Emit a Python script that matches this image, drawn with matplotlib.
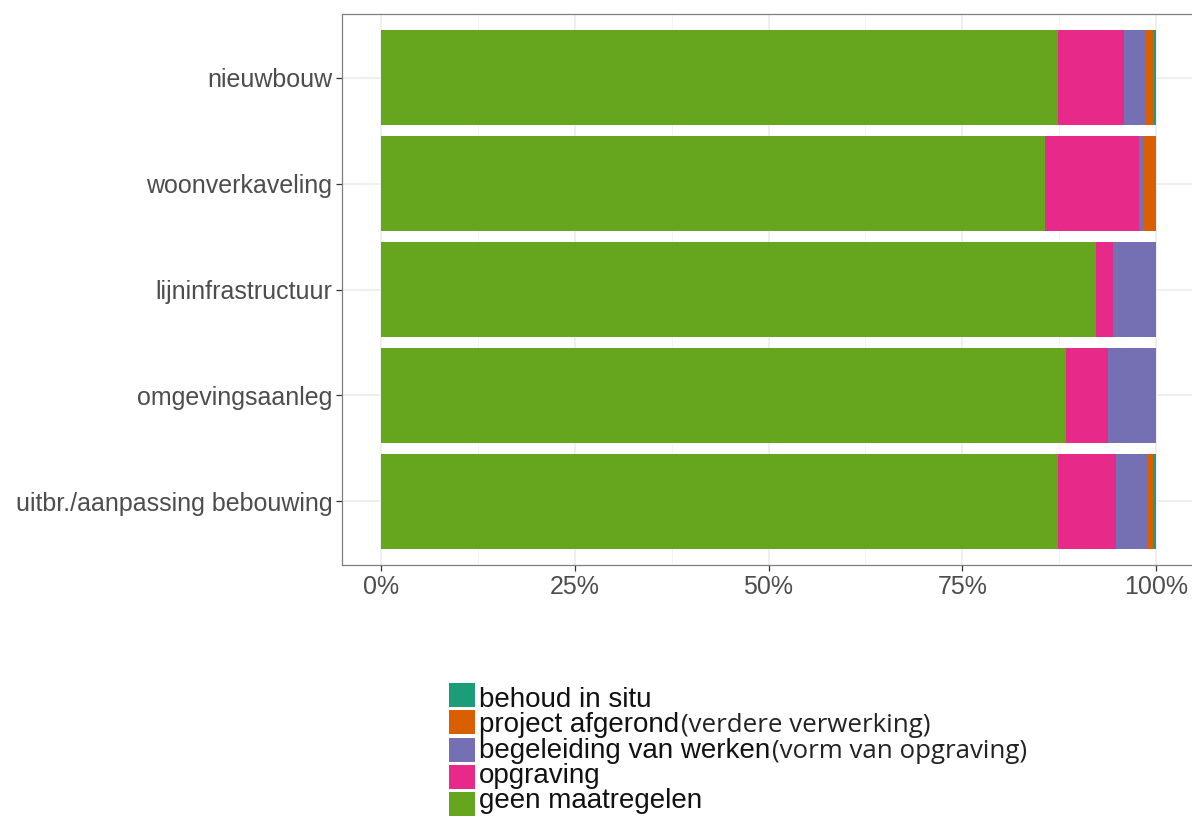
import matplotlib.pyplot as plt
from matplotlib.patches import Rectangle
from matplotlib import font_manager
from matplotlib.ticker import FixedLocator, PercentFormatter

# share of each measure per project type (percent, stacked left to right)
categories = ["nieuwbouw", "woonverkaveling", "lijninfrastructuur",
              "omgevingsaanleg", "uitbr./aanpassing bebouwing"]
geen_maatregelen = [87.3, 85.7, 92.2, 88.4, 87.3]
opgraving = [8.6, 12.1, 2.2, 5.4, 7.5]
begeleiding = [2.7, 0.5, 5.6, 6.2, 4.1]
project_afgerond = [1.1, 1.7, 0.0, 0.0, 0.7]
behoud_in_situ = [0.3, 0.0, 0.0, 0.0, 0.4]

# legend entries, top to bottom: (main label, note)
legend_labels = ["behoud in situ", "project afgerond", "begeleiding van werken",
                 "opgraving", "geen maatregelen"]
legend_notes = ["", "(verdere verwerking)", "(vorm van opgraving)", "", ""]

COLORS = {
    "geen": "#66A61E",
    "opgraving": "#E7298A",
    "begeleiding": "#7570B3",
    "project": "#D95F02",
    "behoud": "#1B9E77",
}

available = {f.name for f in font_manager.fontManager.ttflist}
SANS = "Liberation Sans" if "Liberation Sans" in available else "DejaVu Sans"
NOTE = "Open Sans" if "Open Sans" in available else SANS

W, H = 1192, 819
fig = plt.figure(figsize=(W / 100, H / 100), dpi=100)

# panel in pixel terms, converted to figure fractions
left, right, top, bottom = 342, 1195, 14, 565
ax = fig.add_axes([left / W, 1 - bottom / H, (right - left) / W, (bottom - top) / H])

series = [
    (geen_maatregelen, COLORS["geen"]),
    (opgraving, COLORS["opgraving"]),
    (begeleiding, COLORS["begeleiding"]),
    (project_afgerond, COLORS["project"]),
    (behoud_in_situ, COLORS["behoud"]),
]
ypos = list(range(len(categories)))
cum = [0.0] * len(categories)
for vals, col in series:
    frac = [v / 100 for v in vals]
    ax.barh(ypos, frac, left=cum, height=0.9, color=col, linewidth=0, zorder=3)
    cum = [c + f for c, f in zip(cum, frac)]

ax.set_xlim(-0.05, 1.05)
ax.set_ylim(len(categories) - 0.4, -0.6)

# theme_bw-like grid
ax.xaxis.set_major_locator(FixedLocator([0, 0.25, 0.5, 0.75, 1.0]))
ax.xaxis.set_minor_locator(FixedLocator([0.125, 0.375, 0.625, 0.875]))
ax.xaxis.set_major_formatter(PercentFormatter(1.0, decimals=0))
ax.set_yticks(ypos)
ax.set_yticklabels(categories)
ax.grid(True, which="major", color="#EBEBEB", linewidth=1.1, zorder=0)
ax.grid(True, which="minor", axis="x", color="#F3F3F3", linewidth=0.6, zorder=0)
ax.set_axisbelow(True)
for s in ax.spines.values():
    s.set_color("#7F7F7F")
    s.set_linewidth(0.9)
ax.tick_params(axis="both", which="major", length=4, width=0.9, color="#333333",
               labelsize=18, labelcolor="#4D4D4D", pad=3)
ax.tick_params(axis="x", which="minor", length=0)
for lbl in ax.get_xticklabels() + ax.get_yticklabels():
    lbl.set_fontfamily(SANS)

# hand-built legend below the panel
key_colors = [COLORS["behoud"], COLORS["project"], COLORS["begeleiding"],
              COLORS["opgraving"], COLORS["geen"]]
key_x, key_w, key_h, pitch, first_top = 449, 26, 24, 27.3, 683
first_base, base_step = 707, 25.3
for i, (lab, note, col) in enumerate(zip(legend_labels, legend_notes, key_colors)):
    ktop = first_top + i * pitch
    fig.patches.append(Rectangle((key_x / W, 1 - (ktop + key_h) / H), key_w / W, key_h / H,
                                 transform=fig.transFigure, facecolor=col, edgecolor="none"))
    yb = 1 - (first_base + i * base_step) / H
    t = fig.text(479 / W, yb, lab, fontsize=20, family=SANS,
                 color="#111111", va="baseline", ha="left")
    if note:
        fig.canvas.draw()
        bb = t.get_window_extent()
        fig.text((bb.x1 + 2) / W, yb, note, fontsize=18.6, family=NOTE,
                 color="#222222", va="baseline", ha="left")

fig.savefig("out.png", dpi=100)
